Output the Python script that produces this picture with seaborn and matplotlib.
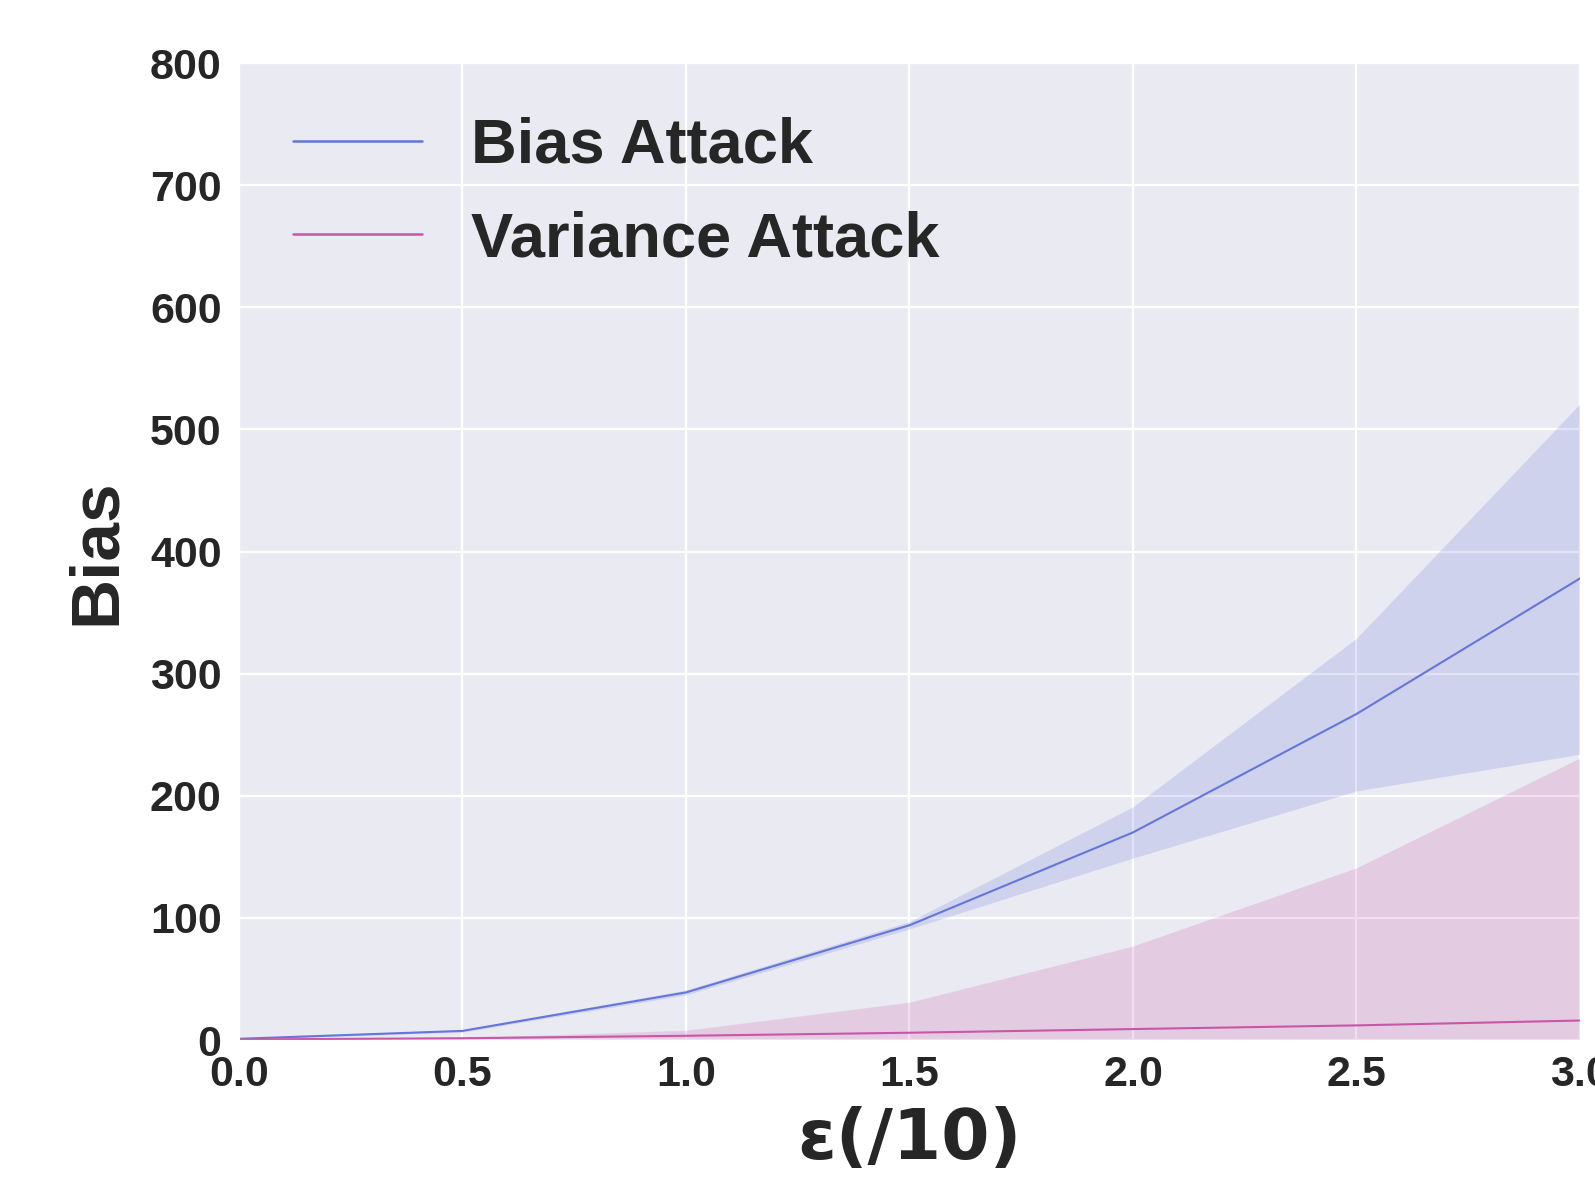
import numpy as np
import pandas as pd
import matplotlib
matplotlib.use("Agg")
import matplotlib.pyplot as plt
import seaborn as sns

# values
eps = [0.0, 0.5, 1.0, 1.5, 2.0, 2.5, 3.0]
bias_mean = [1, 7.5, 39, 94, 170, 267, 378]
bias_low = [0.5, 6.5, 37, 91, 149, 204, 234]
bias_high = [1.5, 8.5, 41, 97, 191, 329, 521]
var_mean = [0.5, 1.5, 3.5, 6, 9, 12, 16]
var_low = [0, 0, 0, 0, 0, 0, 0]
var_high = [1, 2, 8, 31, 77, 141, 231]

series_names = ["Bias Attack", "Variance Attack"]
colors = ["#6476da", "#c956a6"]
x_ticks = [0.0, 0.5, 1.0, 1.5, 2.0, 2.5, 3.0]
y_ticks = [0, 100, 200, 300, 400, 500, 600, 700, 800]

sns.set_style("darkgrid")
plt.rcParams["font.family"] = ["Liberation Sans", "DejaVu Sans"]

df = pd.DataFrame({
    "eps": eps * 2,
    "value": bias_mean + var_mean,
    "attack": [series_names[0]] * len(eps) + [series_names[1]] * len(eps),
})

fig = plt.figure(figsize=(15.95, 11.78), dpi=100)
ax = fig.add_axes([0.1498, 0.1171, 0.8408, 0.8294])

sns.lineplot(data=df, x="eps", y="value", hue="attack", palette=colors,
             linewidth=1.5, ax=ax)
ax.fill_between(eps, bias_low, bias_high, color=colors[0], alpha=0.2, linewidth=0)
ax.fill_between(eps, var_low, var_high, color=colors[1], alpha=0.2, linewidth=0)

ax.set_xlim(0, 3.0)
ax.set_ylim(0, 800)
ax.set_xticks(x_ticks)
ax.set_yticks(y_ticks)
ax.grid(color="white", linewidth=1.6)

tick_font = dict(family=["Liberation Sans Narrow", "Liberation Sans"],
                 weight="bold", size=31)
ax.set_xticklabels([f"{t:.1f}" for t in x_ticks], fontdict=tick_font)
ax.set_yticklabels([str(t) for t in y_ticks], fontdict=tick_font)
ax.tick_params(axis="x", pad=7, colors="#262626")
ax.tick_params(axis="y", pad=9, colors="#262626")

ax.set_xlabel("ε(/10)", fontsize=50, fontweight="bold", family="DejaVu Sans",
              color="#262626", labelpad=8)
ax.set_ylabel("Bias", fontsize=50, fontweight="bold", color="#262626",
              labelpad=15)

leg = ax.legend(loc="upper left", frameon=False, handlelength=2.05,
                handletextpad=0.78, borderaxespad=0.45, labelspacing=0.55,
                prop=dict(family="Liberation Sans", weight="bold", size=45.5))
for t in leg.get_texts():
    t.set_color("#262626")
for h in leg.get_lines():
    h.set_linewidth(1.8)

fig.savefig("out.png", dpi=100)
